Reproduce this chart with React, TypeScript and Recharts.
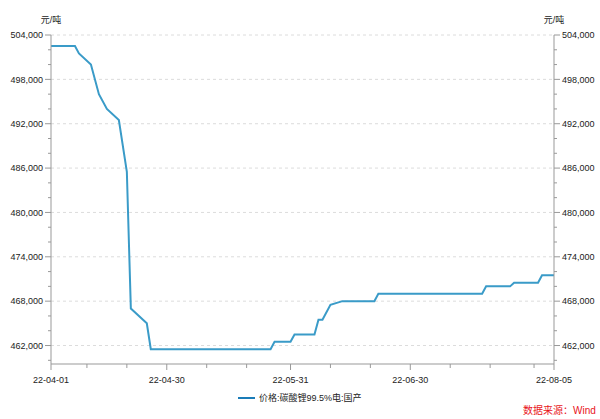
import { LineChart, Line, XAxis, YAxis, ReferenceLine } from 'recharts'

const dates = [
  '2022-04-01', '2022-04-07', '2022-04-08', '2022-04-11', '2022-04-13', '2022-04-15',
  '2022-04-18', '2022-04-20', '2022-04-21', '2022-04-25', '2022-04-26', '2022-05-26',
  '2022-05-27', '2022-05-31', '2022-06-01', '2022-06-06', '2022-06-07', '2022-06-08',
  '2022-06-10', '2022-06-13', '2022-06-21', '2022-06-22', '2022-07-18', '2022-07-19',
  '2022-07-25', '2022-07-26', '2022-08-01', '2022-08-02', '2022-08-05',
]
const prices = [
  502500, 502500, 501500, 500000, 496000, 494000,
  492500, 485500, 467000, 465000, 461500, 461500,
  462500, 462500, 463500, 463500, 465500, 465500,
  467500, 468000, 468000, 469000, 469000, 470000,
  470000, 470500, 470500, 471500, 471500,
]

const xTickDates = [
  '2022-04-01', '2022-04-10', '2022-04-20', '2022-04-30', '2022-05-10', '2022-05-20',
  '2022-05-31', '2022-06-10', '2022-06-20', '2022-06-30', '2022-07-10', '2022-07-20',
  '2022-07-31', '2022-08-05',
]
const xLabelDates = ['2022-04-01', '2022-04-30', '2022-05-31', '2022-06-30', '2022-08-05']

const yTicks = [
  460000, 462000, 464000, 466000, 468000, 470000, 472000, 474000, 476000, 478000, 480000,
  482000, 484000, 486000, 488000, 490000, 492000, 494000, 496000, 498000, 500000, 502000, 504000,
]
const yLabelTicks = [462000, 468000, 474000, 480000, 486000, 492000, 498000, 504000]

const seriesName = '价格:碳酸锂99.5%电:国产'

const data = dates.map((d, i) => ({ t: Date.parse(d), price: prices[i] }))
const xTicks = xTickDates.map((d) => Date.parse(d))
const xLabels = new Set(xLabelDates.map((d) => Date.parse(d)))
const yLabels = new Set(yLabelTicks)
const yDomain = [459500, 504000]

const FONT = '"Liberation Sans", Arial, "Noto Sans CJK SC", sans-serif'
const AXIS = '#999'
const TEXT = '#222'

const fmtDate = (t: number) => {
  const d = new Date(t)
  const mm = String(d.getUTCMonth() + 1).padStart(2, '0')
  const dd = String(d.getUTCDate()).padStart(2, '0')
  return `${String(d.getUTCFullYear()).slice(2)}-${mm}-${dd}`
}

function LeftTick(props: any) {
  const { x, y, payload } = props
  const major = yLabels.has(payload.value)
  return (
    <g>
      <line x1={x - (major ? 6 : 3)} x2={x} y1={y} y2={y} stroke={AXIS} />
      {major && (
        <text x={x - 8} y={y} dy={3.2} textAnchor="end" fontSize={9} fill={TEXT} fontFamily={FONT}>
          {payload.value.toLocaleString('en-US')}
        </text>
      )}
    </g>
  )
}

function RightTick(props: any) {
  const { x, y, payload } = props
  const major = yLabels.has(payload.value)
  return (
    <g>
      <line x1={x} x2={x + (major ? 6 : 3)} y1={y} y2={y} stroke={AXIS} />
      {major && (
        <text x={x + 8} y={y} dy={3.2} textAnchor="start" fontSize={9} fill={TEXT} fontFamily={FONT}>
          {payload.value.toLocaleString('en-US')}
        </text>
      )}
    </g>
  )
}

function BottomTick(props: any) {
  const { x, y, payload } = props
  const major = xLabels.has(payload.value)
  return (
    <g>
      <line x1={x} x2={x} y1={y} y2={y + (major ? 6 : 4)} stroke={AXIS} />
      {major && (
        <text x={x} y={y} dy={19} textAnchor="middle" fontSize={9} fill={TEXT} fontFamily={FONT}>
          {fmtDate(payload.value)}
        </text>
      )}
    </g>
  )
}

export default function App() {
  return (
    <div style={{ position: 'absolute', left: 0, top: 0, width: 600, height: 419, background: '#fff', fontFamily: FONT }}>
      <LineChart width={600} height={419} data={data} margin={{ top: 35, right: 0, bottom: 0, left: 0 }}>
        <XAxis
          dataKey="t"
          type="number"
          domain={[xTicks[0], xTicks[xTicks.length - 1]]}
          ticks={xTicks}
          interval={0}
          height={55}
          tickSize={0}
          tickMargin={0}
          tickLine={false}
          stroke={AXIS}
          tick={<BottomTick />}
        />
        <YAxis
          yAxisId="left"
          domain={yDomain}
          allowDataOverflow
          ticks={yTicks}
          interval={0}
          width={51}
          tickSize={0}
          tickMargin={0}
          tickLine={false}
          stroke={AXIS}
          tick={<LeftTick />}
        />
        <YAxis
          yAxisId="right"
          orientation="right"
          domain={yDomain}
          allowDataOverflow
          ticks={yTicks}
          interval={0}
          width={46}
          tickSize={0}
          tickMargin={0}
          tickLine={false}
          stroke={AXIS}
          tick={<RightTick />}
        />
        {yLabelTicks.map((v) => (
          <ReferenceLine key={v} yAxisId="left" y={v} stroke="#dcdcdc" strokeDasharray="3 3" />
        ))}
        <Line
          yAxisId="right"
          type="linear"
          dataKey="price"
          stroke="none"
          strokeWidth={0}
          dot={false}
          activeDot={false}
          legendType="none"
          isAnimationActive={false}
        />
        <Line
          yAxisId="left"
          type="linear"
          dataKey="price"
          name={seriesName}
          stroke="#3a9bc8"
          strokeWidth={2}
          dot={false}
          activeDot={false}
          isAnimationActive={false}
        />
      </LineChart>
      <div style={{ position: 'absolute', left: 21, top: 14, width: 60, textAlign: 'center', fontSize: 9, lineHeight: '12px', color: TEXT }}>元/吨</div>
      <div style={{ position: 'absolute', left: 524, top: 14, width: 60, textAlign: 'center', fontSize: 9, lineHeight: '12px', color: TEXT }}>元/吨</div>
      <div style={{ position: 'absolute', left: 238, top: 397, width: 17, height: 2, background: '#1a7cb8' }} />
      <div style={{ position: 'absolute', left: 259, top: 392, fontSize: 9, lineHeight: '12px', color: TEXT, whiteSpace: 'nowrap' }}>{seriesName}</div>
      <div style={{ position: 'absolute', left: 523, top: 404, fontSize: 10, lineHeight: '14px', color: '#e8141b', whiteSpace: 'nowrap' }}>数据来源：Wind</div>
    </div>
  )
}
